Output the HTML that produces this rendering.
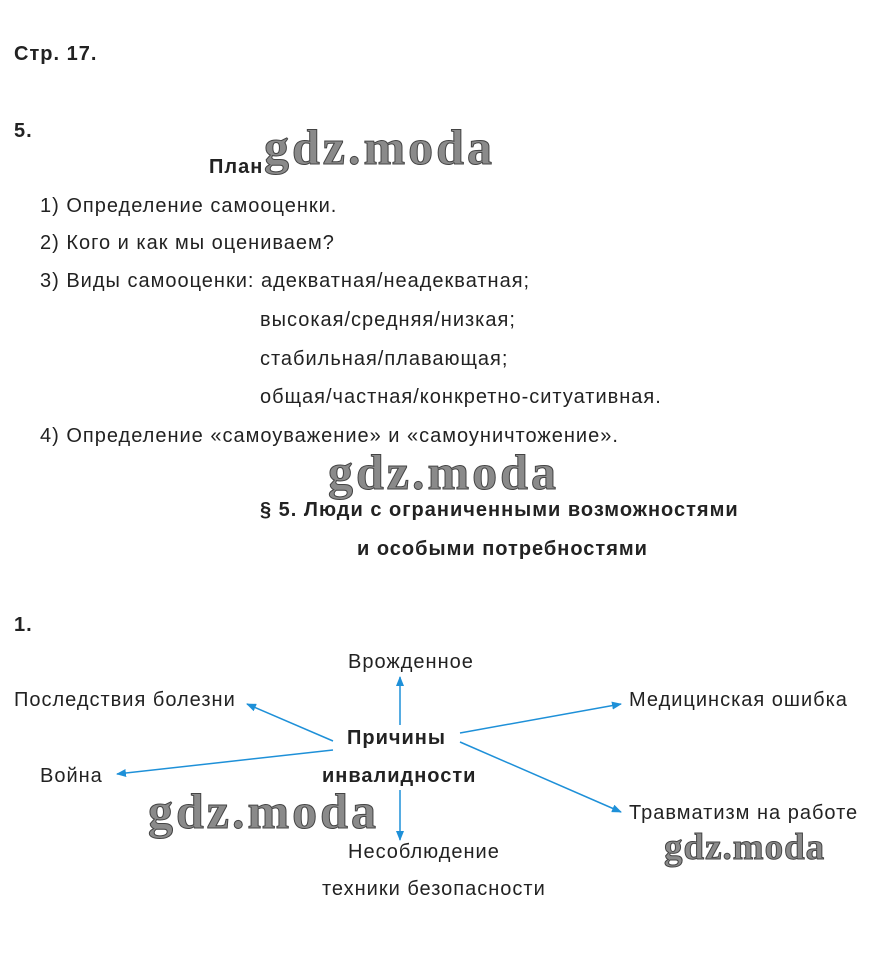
<!DOCTYPE html>
<html><head><meta charset="utf-8"><style>
body{margin:0;width:869px;height:955px;background:#fff;position:relative;overflow:hidden;font-family:"Liberation Sans","DejaVu Sans",sans-serif;color:#222}
.t{position:absolute;font-size:20px;letter-spacing:1px;white-space:nowrap;line-height:1}
.b{font-weight:bold}
.w{position:absolute;font-family:"Liberation Serif",serif;font-weight:bold;color:#8a8a8a;-webkit-text-stroke:1px #444;white-space:nowrap;line-height:1;letter-spacing:3px}
</style></head><body>
<div class="t b" style="left:14px;top:44px">Стр. 17.</div>
<div class="t b" style="left:14px;top:121px">5.</div>
<div class="t b" style="left:209px;top:157px">План</div>
<div class="w" style="left:264px;top:122px;font-size:50px">gdz.moda</div>
<div class="t" style="left:40px;top:196px">1) Определение самооценки.</div>
<div class="t" style="left:40px;top:233px">2) Кого и как мы оцениваем?</div>
<div class="t" style="left:40px;top:271px">3) Виды самооценки: адекватная/неадекватная;</div>
<div class="t" style="left:260px;top:310px">высокая/средняя/низкая;</div>
<div class="t" style="left:260px;top:349px">стабильная/плавающая;</div>
<div class="t" style="left:260px;top:387px">общая/частная/конкретно-ситуативная.</div>
<div class="t" style="left:40px;top:426px">4) Определение «самоуважение» и «самоуничтожение».</div>
<div class="w" style="left:328px;top:447px;font-size:50px">gdz.moda</div>
<div class="t b" style="left:260px;top:500px">§ 5. Люди с ограниченными возможностями</div>
<div class="t b" style="left:357px;top:539px">и особыми потребностями</div>
<div class="t b" style="left:14px;top:615px">1.</div>
<div class="t" style="left:348px;top:652px">Врожденное</div>
<div class="t" style="left:14px;top:690px">Последствия болезни</div>
<div class="t" style="left:629px;top:690px">Медицинская ошибка</div>
<div class="t b" style="left:347px;top:728px">Причины</div>
<div class="t" style="left:40px;top:766px">Война</div>
<div class="t b" style="left:322px;top:766px">инвалидности</div>
<div class="t" style="left:629px;top:803px">Травматизм на работе</div>
<div class="w" style="left:148px;top:786px;font-size:50px">gdz.moda</div>
<div class="w" style="left:664px;top:829px;font-size:37px;letter-spacing:1px">gdz.moda</div>
<div class="t" style="left:348px;top:842px">Несоблюдение</div>
<div class="t" style="left:322px;top:879px">техники безопасности</div>
<svg width="869" height="955" style="position:absolute;left:0;top:0">
<defs><marker id="a" markerWidth="10" markerHeight="8" refX="9" refY="4" orient="auto" markerUnits="userSpaceOnUse"><path d="M0,0 L10,4 L0,8 Z" fill="#1e90d8"/></marker></defs>
<g stroke="#1e90d8" stroke-width="1.5" fill="none" marker-end="url(#a)">
<line x1="400" y1="725" x2="400" y2="677"/>
<line x1="333" y1="741" x2="247" y2="704"/>
<line x1="333" y1="750" x2="117" y2="774"/>
<line x1="460" y1="733" x2="621" y2="704"/>
<line x1="460" y1="742" x2="621" y2="812"/>
<line x1="400" y1="790" x2="400" y2="840"/>
</g></svg>
</body></html>
